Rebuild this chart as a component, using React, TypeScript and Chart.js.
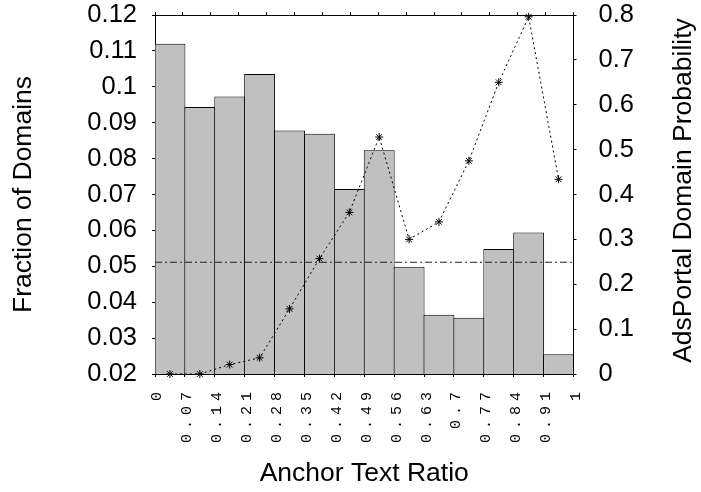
import React, { useEffect, useRef } from 'react';
import { Chart, registerables } from 'chart.js';

Chart.register(...registerables);

const xTickLabels = ['0', '0.07', '0.14', '0.21', '0.28', '0.35', '0.42', '0.49', '0.56', '0.63', '0.7', '0.77', '0.84', '0.91', '1'];
const fractionOfDomains = [0.112, 0.0944, 0.0973, 0.1036, 0.0878, 0.0869, 0.0715, 0.0823, 0.0499, 0.0365, 0.0357, 0.0548, 0.0594, 0.0255];
const adsPortalProbability = [0, 0, 0.021, 0.036, 0.145, 0.257, 0.36, 0.528, 0.3, 0.339, 0.475, 0.65, 0.796, 0.434];
const averageProbability = 0.249;
const leftTickValues = [0.02, 0.03, 0.04, 0.05, 0.06, 0.07, 0.08, 0.09, 0.1, 0.11, 0.12];
const leftTickLabels = ['0.02', '0.03', '0.04', '0.05', '0.06', '0.07', '0.08', '0.09', '0.1', '0.11', '0.12'];
const rightTickValues = [0, 0.1, 0.2, 0.3, 0.4, 0.5, 0.6, 0.7, 0.8];
const rightTickLabels = ['0', '0.1', '0.2', '0.3', '0.4', '0.5', '0.6', '0.7', '0.8'];
const xTitle = 'Anchor Text Ratio';
const leftTitle = 'Fraction of Domains';
const rightTitle = 'AdsPortal Domain Probability';

const W = 701;
const H = 492;
const SANS = 'Liberation Sans';

export default function App() {
  const ref = useRef<HTMLCanvasElement>(null);

  useEffect(() => {
    const nBins = fractionOfDomains.length;
    const nTicks = xTickLabels.length;
    const binCenter = (i: number) => (i + 0.5) / nBins;
    const tickPos = (i: number) => i / (nTicks - 1);

    const customPlugin = {
      id: 'customText',
      afterDraw(chart: any) {
        const ctx = chart.ctx;
        // rotated, letter-spaced x tick labels (read bottom to top, ending near the axis)
        const xs = chart.scales.x;
        const topY = xs.top + 19;
        const pitch = 14;
        ctx.save();
        ctx.font = '15px "Liberation Mono"';
        ctx.fillStyle = '#000';
        ctx.textAlign = 'center';
        ctx.textBaseline = 'middle';
        xTickLabels.forEach((label, i) => {
          const px = xs.getPixelForValue(tickPos(i)) + 2.5;
          const chars = label.split('');
          const n = chars.length;
          chars.forEach((c, k) => {
            const cy = topY + 3.5 + (n - 1 - k) * pitch;
            ctx.save();
            ctx.translate(px, cy);
            ctx.rotate(-Math.PI / 2);
            ctx.fillText(c, 0, 0);
            ctx.restore();
          });
        });
        ctx.restore();

        // right axis title, reading bottom to top
        const s = chart.scales.y1;
        ctx.save();
        ctx.translate(s.right - 17, (chart.chartArea.top + chart.chartArea.bottom) / 2 - 4);
        ctx.rotate(-Math.PI / 2);
        ctx.font = '26.5px "' + SANS + '"';
        ctx.fillStyle = '#000';
        ctx.textAlign = 'center';
        ctx.textBaseline = 'middle';
        ctx.fillText(rightTitle, 0, 0);
        ctx.restore();
      },
    };

    const zeroPad = (s: any) => {
      s.paddingTop = 0;
      s.paddingBottom = 0;
      s.paddingLeft = 0;
      s.paddingRight = 0;
    };

    const chart = new Chart(ref.current as HTMLCanvasElement, {
      type: 'bar',
      data: {
        datasets: [
          {
            type: 'line',
            yAxisID: 'y1',
            xAxisID: 'x',
            data: adsPortalProbability.map((v, i) => ({ x: binCenter(i), y: v })),
            borderColor: '#000',
            borderWidth: 1,
            borderDash: [2, 3],
            pointStyle: 'star',
            pointRadius: 4,
            pointBorderColor: '#000',
            pointBackgroundColor: '#000',
            pointBorderWidth: 1,
            tension: 0,
            clip: false,
            order: 0,
          } as any,
          {
            type: 'line',
            yAxisID: 'y1',
            xAxisID: 'x',
            data: [
              { x: 0, y: averageProbability },
              { x: 1, y: averageProbability },
            ],
            borderColor: '#222',
            borderWidth: 1,
            borderDash: [7, 3, 2, 3],
            pointRadius: 0,
            tension: 0,
            order: 1,
          } as any,
          {
            type: 'bar',
            yAxisID: 'y',
            xAxisID: 'x',
            data: fractionOfDomains.map((v, i) => ({ x: binCenter(i), y: v })),
            backgroundColor: '#c0c0c0',
            borderColor: '#000',
            borderWidth: { top: 1, left: 1, right: 1, bottom: 0 },
            borderSkipped: 'start',
            barPercentage: 1.034,
            categoryPercentage: 1,
            order: 2,
          } as any,
        ],
      },
      options: {
        responsive: false,
        animation: false,
        devicePixelRatio: 1,
        layout: { padding: { top: 12, left: 0, right: 0, bottom: 0 } },
        plugins: {
          legend: { display: false },
          tooltip: { enabled: false },
        },
        scales: {
          x: {
            type: 'linear',
            position: 'bottom',
            min: 0,
            max: 1,
            offset: false,
            afterBuildTicks: (s: any) => {
              s.ticks = xTickLabels.map((_, i) => ({ value: tickPos(i) }));
            },
            afterFit: (s: any) => {
              s.height = 118;
              zeroPad(s);
            },
            ticks: {
              display: false,
              autoSkip: false,
              callback: (_v: any, i: number) => xTickLabels[i],
            },
            grid: { drawOnChartArea: false, tickLength: 3, color: '#000', offset: false },
            border: { display: true, color: '#000', width: 1 },
            title: {
              display: true,
              text: xTitle,
              color: '#000',
              font: { family: SANS, size: 26.5 },
              padding: { top: 0, bottom: 2 },
            },
          },
          x2: {
            type: 'linear',
            position: 'top',
            min: 0,
            max: 1,
            afterBuildTicks: (s: any) => {
              s.ticks = xTickLabels.map((_, i) => ({ value: tickPos(i) }));
            },
            afterFit: (s: any) => {
              s.height = 3;
              zeroPad(s);
            },
            ticks: { display: false },
            grid: { drawOnChartArea: false, tickLength: 3, color: '#000' },
            border: { display: true, color: '#000', width: 1 },
          },
          y: {
            type: 'linear',
            position: 'left',
            min: 0.02,
            max: 0.12,
            afterBuildTicks: (s: any) => {
              s.ticks = leftTickValues.map((v) => ({ value: v }));
            },
            afterFit: (s: any) => {
              s.width = 155;
              zeroPad(s);
            },
            ticks: {
              autoSkip: false,
              padding: 15,
              color: '#000',
              font: { family: SANS, size: 25.5 },
              callback: (_v: any, i: number) => leftTickLabels[i],
            },
            grid: { drawOnChartArea: false, tickLength: 3, color: '#000' },
            border: { display: true, color: '#000', width: 1 },
            title: {
              display: true,
              text: leftTitle,
              color: '#000',
              font: { family: SANS, size: 26.5 },
              padding: { top: 7.5, bottom: 0 },
            },
          },
          y1: {
            type: 'linear',
            position: 'right',
            min: 0,
            max: 0.8,
            afterBuildTicks: (s: any) => {
              s.ticks = rightTickValues.map((v) => ({ value: v }));
            },
            afterFit: (s: any) => {
              s.width = 127.5;
              zeroPad(s);
            },
            ticks: {
              autoSkip: false,
              padding: 22,
              color: '#000',
              font: { family: SANS, size: 25.5 },
              callback: (_v: any, i: number) => rightTickLabels[i],
            },
            grid: { drawOnChartArea: false, tickLength: 3, color: '#000' },
            border: { display: true, color: '#000', width: 1 },
          },
        },
      } as any,
      plugins: [customPlugin as any],
    });

    return () => chart.destroy();
  }, []);

  return (
    <div style={{ position: 'absolute', left: 0, top: 0, width: W, height: H }}>
      <canvas ref={ref} width={W} height={H} style={{ display: 'block', width: W, height: H }} />
    </div>
  );
}
